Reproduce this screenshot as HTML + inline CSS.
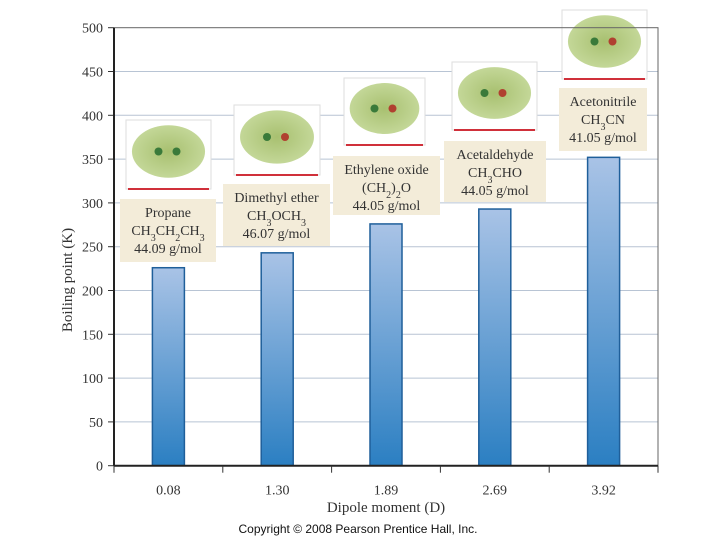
<!DOCTYPE html>
<html><head><meta charset="utf-8"><style>
body{margin:0;background:#fff;width:720px;height:540px;overflow:hidden;font-family:"Liberation Serif",serif}
svg{display:block}
.lab{font-family:"Liberation Serif",serif;font-size:14px;fill:#333;text-anchor:middle}
</style></head><body>
<svg id="chart" width="720" height="540">
<defs>
<linearGradient id="bg" x1="0" y1="0" x2="0" y2="1"><stop offset="0" stop-color="#a9c3e6"/><stop offset="1" stop-color="#2b7fc2"/></linearGradient>
<radialGradient id="blob" cx="0.5" cy="0.5" r="0.6"><stop offset="0" stop-color="#a8c070"/><stop offset="1" stop-color="#c9dca0"/></radialGradient>
</defs>
<g id="grid"></g><g id="bars"></g><g id="cards"></g><g id="axes"></g>
</svg>
<script>
const categories=["0.08","1.30","1.89","2.69","3.92"];
const boilingPoints=[226,243,276,293,352];
const yTicks=[0,50,100,150,200,250,300,350,400,450,500];
const names=["Propane","Dimethyl ether","Ethylene oxide","Acetaldehyde","Acetonitrile"];
const formulas=["CH<tspan baseline-shift='sub' font-size='10'>3</tspan>CH<tspan baseline-shift='sub' font-size='10'>2</tspan>CH<tspan baseline-shift='sub' font-size='10'>3</tspan>","CH<tspan baseline-shift='sub' font-size='10'>3</tspan>OCH<tspan baseline-shift='sub' font-size='10'>3</tspan>","(CH<tspan baseline-shift='sub' font-size='10'>2</tspan>)<tspan baseline-shift='sub' font-size='10'>2</tspan>O","CH<tspan baseline-shift='sub' font-size='10'>3</tspan>CHO","CH<tspan baseline-shift='sub' font-size='10'>3</tspan>CN"];
const masses=["44.09 g/mol","46.07 g/mol","44.05 g/mol","44.05 g/mol","41.05 g/mol"];
const NS="http://www.w3.org/2000/svg";
const L=114,R=658,T=27.7,B=465.7;
const y=v=>B-(v/500)*(B-T);
const band=(R-L)/categories.length;
const xc=i=>L+band*(i+0.5);
function mk(tag,attrs,parent){const e=document.createElementNS(NS,tag);for(const k in attrs)e.setAttribute(k,attrs[k]);parent.appendChild(e);return e;}
const grid=document.getElementById('grid'),bars=document.getElementById('bars'),cards=document.getElementById('cards'),axes=document.getElementById('axes');
yTicks.forEach(t=>{
 if(t>0&&t<500){const g=mk('line',{x1:L,x2:R,y1:y(t),y2:y(t),stroke:'#b8c4d4','stroke-width':1},grid);
 
 }
 const tk=mk('line',{x1:L-6,x2:L,y1:y(t),y2:y(t),stroke:'#333'},axes);
 
 
 const tx=mk('text',{x:L-11,y:y(t)+5,'text-anchor':'end','font-size':'14',fill:'#333'},axes);tx.textContent=t;
 
 
});
const fr=mk('rect',{x:L,y:T,width:R-L,height:B-T,fill:'none',stroke:'#666','stroke-width':1},axes);


const ya=mk('line',{x1:L,x2:L,y1:T,y2:B,stroke:'#222','stroke-width':2},axes);


const xa=mk('line',{x1:L,x2:R,y1:B,y2:B,stroke:'#222','stroke-width':2},axes);


for(let i=0;i<=categories.length;i++){const tk=mk('line',{x1:L+band*i,x2:L+band*i,y1:B,y2:B+7,stroke:'#333'},axes);
 
 }
const cardBoxes=[[120,199,96,63],[223,184,107,62],[333,156,107,59],[444,141,102,61],[559,88,88,63]];
const imgBoxes=[[126,120,85,69],[234,105,86,70],[344,78,81,67],[452,62,85,68],[562,10,85,69]];
categories.forEach((c,i)=>{
 const v=boilingPoints[i];
 const r=mk('rect',{x:xc(i)-16,y:y(v),width:32,height:B-y(v),fill:'url(#bg)',stroke:'#1f5f9a','stroke-width':1.5},bars);
 
 
 const t=mk('text',{x:xc(i),y:B+29,class:'lab'},axes);t.textContent=c;
 
 
 const [ix,iy,iw,ih]=imgBoxes[i];
 const g=mk('g',{},cards);
 
 
 mk('rect',{x:ix,y:iy,width:iw,height:ih,fill:'#fff',stroke:'#ddd'},g);
 mk('ellipse',{cx:ix+iw/2,cy:iy+ih/2-3,rx:iw*0.43,ry:ih*0.38,fill:'url(#blob)'},g);
 mk('circle',{cx:ix+iw/2-10,cy:iy+ih/2-3,r:4,fill:'#3a7a3a'},g);
 mk('circle',{cx:ix+iw/2+8,cy:iy+ih/2-3,r:4,fill:i>0?'#b04030':'#3a7a3a'},g);
 mk('line',{x1:ix+2,x2:ix+iw-2,y1:iy+ih,y2:iy+ih,stroke:'#d0303a','stroke-width':2},g);
 const [bx,by,bw,bh]=cardBoxes[i];
 const cg=mk('g',{},cards);
 
 
 mk('rect',{x:bx,y:by,width:bw,height:bh,fill:'#f3ecd9'},cg);
 const cx=bx+bw/2;
 const t1=mk('text',{x:cx,y:by+18,class:'lab'},cg);t1.textContent=names[i];
 const t2=mk('text',{x:cx,y:by+36,class:'lab'},cg);t2.innerHTML=formulas[i];
 const t3=mk('text',{x:cx,y:by+54,class:'lab'},cg);t3.textContent=masses[i];
});
const xt=mk('text',{x:386,y:512,class:'lab','font-size':'15'},axes);xt.textContent='Dipole moment (D)';xt.style.fontSize='15px';


const ytl=mk('text',{x:0,y:0,class:'lab',transform:'translate(72,280) rotate(-90)'},axes);ytl.textContent='Boiling point (K)';ytl.style.fontSize='15px';


const cp=mk('text',{x:358,y:533,'text-anchor':'middle','font-family':'Liberation Sans, sans-serif','font-size':'12',fill:'#111'},axes);cp.textContent='Copyright © 2008 Pearson Prentice Hall, Inc.';


</script>
</body></html>
